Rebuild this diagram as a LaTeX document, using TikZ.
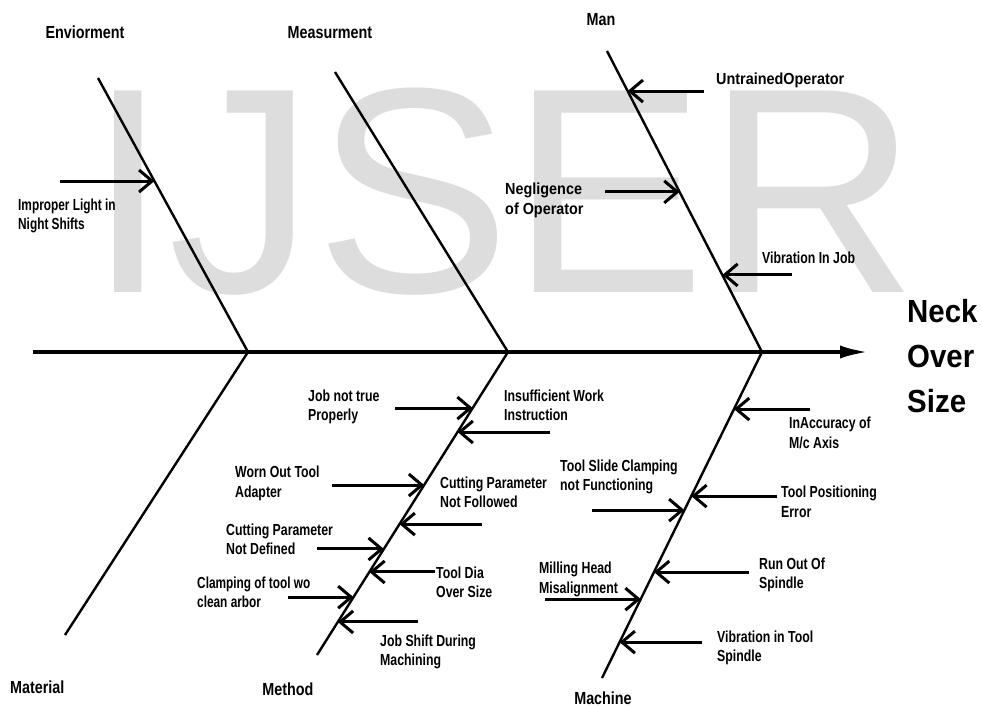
\documentclass[tikz,border=0pt]{standalone}
\usepackage{fontspec}
\setmainfont{Liberation Sans}
\usetikzlibrary{arrows.meta,calc}
\definecolor{wmgray}{RGB}{221,221,221}
\newcommand{\lbl}[2][0.77]{\scalebox{#1}[1]{\begin{tabular}{@{}l@{}}#2\end{tabular}}}

\begin{document}
\begin{tikzpicture}[x=1pt, y=-1pt, every node/.style={inner sep=0pt},
  bone/.style={line width=2.4pt},
  cause/.style={line width=3pt, -{Straight Barb[length=13pt,width=22pt]}},
  spine/.style={line width=4.5pt, -{Latex[length=30pt,width=13pt]}},
  htext/.style={font=\fontsize{17.5}{20}\selectfont\bfseries, yshift=-2pt},
  ctext/.style={anchor=west, font=\fontsize{16}{19.5}\selectfont\bfseries, yshift=-2pt}]
\useasboundingbox (0,0) rectangle (982,707);

% watermark
\node (wm) [anchor=base west, text=wmgray, font=\fontsize{293}{300}\selectfont] at (87,292) {IJSER};

% spine and bones
\coordinate (tail) at (33,352);
\coordinate (head) at (870,352);
\coordinate (j1) at (248,352);
\coordinate (j2) at (508,352);
\coordinate (j3) at (762,352);
\coordinate (env) at (98,78);
\coordinate (meas) at (335,72);
\coordinate (man) at (607,51);
\coordinate (mat) at (65,635);
\coordinate (meth) at (317,655);
\coordinate (mach) at (602,678);

\draw[spine] (tail) -- (head);
\draw[bone] (j1) -- (env);
\draw[bone] (j2) -- (meas);
\draw[bone] (j3) -- (man);
\draw[bone] (j1) -- (mat);
\draw[bone] (j2) -- (meth);
\draw[bone] (j3) -- (mach);

% category labels
\node (envlbl) [htext] at (85,32) {\lbl[0.82]{Enviorment}};
\node (measlbl) [htext] at (330,32) {\lbl[0.82]{Measurment}};
\node (manlbl) [htext] at (601,19) {\lbl[0.82]{Man}};
\node (matlbl) [htext, anchor=west] at (10,687) {\lbl[0.82]{Material}};
\node (methlbl) [htext] at (288,689) {\lbl[0.82]{Method}};
\node (machlbl) [htext] at (603,698) {\lbl[0.82]{Machine}};
\node (effect) [anchor=west, font=\fontsize{32}{45}\selectfont\bfseries] at (907,358) {\lbl[0.92]{Neck\\Over\\Size}};

% enviorment
\coordinate (t1) at ($(j1)!0.624!(env)$);
\coordinate (s1) at (60,0 |- t1);
\draw[cause] (s1) -- (t1);
\node (c1) [ctext] at (18,214) {\lbl[0.74]{Improper Light in\\Night Shifts}};

% man
\coordinate (t2) at ($(j3)!0.867!(man)$);
\coordinate (s2) at (704,0 |- t2);
\draw[cause] (s2) -- (t2);
\node (c2) [ctext] at (716,79) {\lbl[0.9]{UntrainedOperator}};
\coordinate (t3) at ($(j3)!0.532!(man)$);
\coordinate (s3) at (605,0 |- t3);
\draw[cause] (s3) -- (t3);
\node (c3) [ctext] at (505,198.5) {\lbl[0.9]{Negligence\\of Operator}};
\coordinate (t4) at ($(j3)!0.256!(man)$);
\coordinate (s4) at (792,0 |- t4);
\draw[cause] (s4) -- (t4);
\node (c4) [ctext] at (762,258) {\lbl{Vibration In Job}};

% method
\coordinate (t5) at ($(j2)!0.185!(meth)$);
\coordinate (s5) at (395,0 |- t5);
\draw[cause] (s5) -- (t5);
\node (c5) [ctext] at (308,405) {\lbl{Job not true\\Properly}};
\coordinate (t6) at ($(j2)!0.264!(meth)$);
\coordinate (s6) at (550,0 |- t6);
\draw[cause] (s6) -- (t6);
\node (c6) [ctext] at (504,405) {\lbl{Insufficient Work\\Instruction}};
\coordinate (t7) at ($(j2)!0.439!(meth)$);
\coordinate (s7) at (332,0 |- t7);
\draw[cause] (s7) -- (t7);
\node (c7) [ctext] at (235,481.5) {\lbl{Worn Out Tool\\Adapter}};
\coordinate (t8) at ($(j2)!0.568!(meth)$);
\coordinate (s8) at (482,0 |- t8);
\draw[cause] (s8) -- (t8);
\node (c8) [ctext] at (440,492) {\lbl{Cutting Parameter\\Not Followed}};
\coordinate (t9) at ($(j2)!0.650!(meth)$);
\coordinate (s9) at (317,0 |- t9);
\draw[cause] (s9) -- (t9);
\node (c9) [ctext] at (226,539) {\lbl{Cutting Parameter\\Not Defined}};
\coordinate (t10) at ($(j2)!0.726!(meth)$);
\coordinate (s10) at (435,0 |- t10);
\draw[cause] (s10) -- (t10);
\node (c10) [ctext] at (436,582) {\lbl{Tool Dia\\Over Size}};
\coordinate (t11) at ($(j2)!0.809!(meth)$);
\coordinate (s11) at (288,0 |- t11);
\draw[cause] (s11) -- (t11);
\node (c11) [ctext] at (197,592) {\lbl[0.74]{Clamping of tool wo\\clean arbor}};
\coordinate (t12) at ($(j2)!0.891!(meth)$);
\coordinate (s12) at (418,0 |- t12);
\draw[cause] (s12) -- (t12);
\node (c12) [ctext] at (380,650) {\lbl{Job Shift During\\Machining}};

% machine
\coordinate (t13) at ($(j3)!0.175!(mach)$);
\coordinate (s13) at (810,0 |- t13);
\draw[cause] (s13) -- (t13);
\node (c13) [ctext] at (789,432.5) {\lbl{InAccuracy of\\M/c Axis}};
\coordinate (t14) at ($(j3)!0.485!(mach)$);
\coordinate (s14) at (592,0 |- t14);
\draw[cause] (s14) -- (t14);
\node (c14) [ctext] at (560,475) {\lbl{Tool Slide Clamping\\not Functioning}};
\coordinate (t15) at ($(j3)!0.442!(mach)$);
\coordinate (s15) at (777,0 |- t15);
\draw[cause] (s15) -- (t15);
\node (c15) [ctext] at (781,501.5) {\lbl{Tool Positioning\\Error}};
\coordinate (t16) at ($(j3)!0.675!(mach)$);
\coordinate (s16) at (749,0 |- t16);
\draw[cause] (s16) -- (t16);
\node (c16) [ctext] at (759,573) {\lbl{Run Out Of\\Spindle}};
\coordinate (t17) at ($(j3)!0.758!(mach)$);
\coordinate (s17) at (545,0 |- t17);
\draw[cause] (s17) -- (t17);
\node (c17) [ctext] at (539,577.5) {\lbl{Milling Head\\Misalignment}};
\coordinate (t18) at ($(j3)!0.890!(mach)$);
\coordinate (s18) at (702,0 |- t18);
\draw[cause] (s18) -- (t18);
\node (c18) [ctext] at (717,646) {\lbl{Vibration in Tool\\Spindle}};
\end{tikzpicture}
\end{document}
